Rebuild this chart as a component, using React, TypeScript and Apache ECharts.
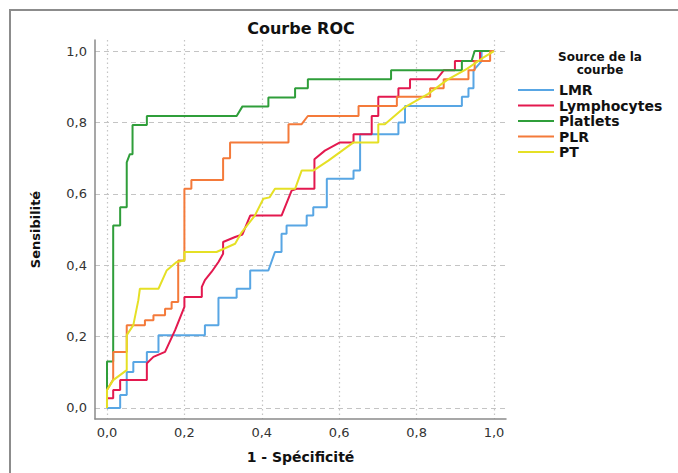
import React, { useEffect, useRef } from "react";
import * as echarts from "echarts";

const seriesNames = ["LMR", "Lymphocytes", "Platlets", "PLR", "PT"];
const seriesColors = ["#58a6e4", "#e3194f", "#2f9e3a", "#f47a3a", "#e5e025"];
const tickValues = [0, 0.2, 0.4, 0.6, 0.8, 1.0];

// LMR
const lmrX = [0, 0.034, 0.034, 0.051, 0.051, 0.068, 0.068, 0.103, 0.103, 0.133, 0.133, 0.253, 0.253, 0.288, 0.288, 0.335, 0.335, 0.37, 0.37, 0.417, 0.434, 0.451, 0.451, 0.464, 0.464, 0.516, 0.516, 0.533, 0.533, 0.568, 0.568, 0.637, 0.637, 0.654, 0.654, 0.753, 0.753, 0.77, 0.77, 0.917, 0.917, 0.934, 0.934, 0.947, 0.947, 0.968, 0.968, 1.0];
const lmrY = [0, 0, 0.036, 0.036, 0.101, 0.101, 0.129, 0.129, 0.157, 0.157, 0.204, 0.204, 0.232, 0.232, 0.309, 0.309, 0.334, 0.334, 0.385, 0.385, 0.437, 0.437, 0.488, 0.488, 0.511, 0.511, 0.539, 0.539, 0.562, 0.562, 0.642, 0.642, 0.665, 0.665, 0.767, 0.767, 0.8, 0.8, 0.846, 0.846, 0.872, 0.872, 0.896, 0.896, 0.946, 0.972, 1.0, 1.0];

// Lymphocytes
const lymX = [0, 0, 0.016, 0.016, 0.034, 0.034, 0.103, 0.103, 0.12, 0.15, 0.176, 0.2, 0.2, 0.245, 0.245, 0.253, 0.27, 0.288, 0.3, 0.3, 0.331, 0.35, 0.37, 0.451, 0.477, 0.49, 0.536, 0.536, 0.563, 0.602, 0.637, 0.637, 0.684, 0.684, 0.701, 0.701, 0.753, 0.753, 0.783, 0.783, 0.852, 0.87, 0.899, 0.899, 0.964, 0.964, 1.0];
const lymY = [0, 0.027, 0.027, 0.05, 0.05, 0.078, 0.078, 0.125, 0.143, 0.157, 0.218, 0.283, 0.311, 0.311, 0.339, 0.358, 0.381, 0.409, 0.432, 0.465, 0.479, 0.486, 0.539, 0.539, 0.609, 0.614, 0.614, 0.697, 0.721, 0.744, 0.744, 0.767, 0.767, 0.818, 0.818, 0.872, 0.872, 0.896, 0.896, 0.921, 0.921, 0.946, 0.946, 0.972, 0.972, 1.0, 1.0];

// Platlets
const pltX = [0, 0, 0.016, 0.016, 0.034, 0.034, 0.051, 0.051, 0.059, 0.066, 0.066, 0.103, 0.103, 0.335, 0.35, 0.417, 0.417, 0.486, 0.486, 0.519, 0.519, 0.734, 0.734, 0.917, 0.917, 0.942, 0.95, 1.0];
const pltY = [0, 0.13, 0.13, 0.511, 0.511, 0.562, 0.562, 0.688, 0.711, 0.711, 0.793, 0.793, 0.818, 0.818, 0.845, 0.845, 0.87, 0.87, 0.896, 0.896, 0.921, 0.921, 0.946, 0.946, 0.972, 0.972, 1.0, 1.0];

// PLR
const plrX = [0, 0, 0.016, 0.016, 0.051, 0.051, 0.098, 0.098, 0.12, 0.12, 0.15, 0.15, 0.167, 0.167, 0.184, 0.184, 0.2, 0.2, 0.218, 0.218, 0.3, 0.3, 0.318, 0.318, 0.469, 0.469, 0.503, 0.519, 0.65, 0.65, 0.749, 0.749, 0.835, 0.835, 0.87, 0.87, 0.934, 0.934, 0.95, 0.95, 0.99, 0.99, 1.0];
const plrY = [0, 0.05, 0.08, 0.157, 0.157, 0.232, 0.232, 0.246, 0.246, 0.26, 0.26, 0.278, 0.278, 0.297, 0.297, 0.413, 0.413, 0.614, 0.614, 0.639, 0.639, 0.7, 0.7, 0.744, 0.744, 0.795, 0.795, 0.818, 0.818, 0.846, 0.846, 0.872, 0.872, 0.896, 0.896, 0.921, 0.921, 0.946, 0.946, 0.972, 0.972, 1.0, 1.0];

// PT
const ptX = [0, 0, 0.016, 0.051, 0.051, 0.068, 0.081, 0.085, 0.133, 0.154, 0.18, 0.2, 0.2, 0.283, 0.331, 0.348, 0.382, 0.404, 0.42, 0.434, 0.486, 0.503, 0.533, 0.572, 0.637, 0.701, 0.701, 0.718, 0.77, 0.83, 0.88, 0.93, 0.97, 1.0];
const ptY = [0, 0.05, 0.078, 0.106, 0.204, 0.232, 0.302, 0.334, 0.334, 0.385, 0.409, 0.413, 0.437, 0.437, 0.46, 0.492, 0.539, 0.586, 0.59, 0.614, 0.614, 0.665, 0.665, 0.693, 0.744, 0.744, 0.795, 0.795, 0.843, 0.88, 0.92, 0.95, 0.98, 1.0];

const seriesX = [lmrX, lymX, pltX, plrX, ptX];
const seriesY = [lmrY, lymY, pltY, plrY, ptY];

const FONT = "DejaVu Sans";
const fmt = (v: number) => v.toFixed(1).replace(".", ",");

export default function App() {
  const ref = useRef<HTMLDivElement>(null);
  useEffect(() => {
    if (!ref.current) return;
    const chart = echarts.init(ref.current, undefined, { renderer: "svg" });
    const series = seriesNames.map((name, i) => ({
      name,
      type: "line",
      data: seriesX[i].map((x, j) => [x, seriesY[i][j]]),
      symbol: "none",
      showSymbol: false,
      lineStyle: { width: 2, color: seriesColors[i] },
      itemStyle: { color: seriesColors[i] },
      z: 3,
    }));
    chart.setOption({
      animation: false,
      backgroundColor: "#ffffff",
      title: [
        {
          text: "Courbe ROC",
          left: 301,
          top: 20,
          padding: 0,
          textAlign: "center",
          textStyle: { fontFamily: FONT, fontSize: 16, fontWeight: "bold", color: "#111" },
        },
        {
          text: "Source de la\ncourbe",
          left: 600,
          top: 50,
          padding: 0,
          textAlign: "center",
          textStyle: { fontFamily: FONT, fontSize: 12, fontWeight: "bold", color: "#111", lineHeight: 13 },
        },
      ],
      legend: {
        orient: "vertical",
        left: 517,
        top: 83,
        padding: 0,
        itemWidth: 36,
        itemHeight: 14,
        itemGap: 1.5,
        data: seriesNames,
        itemStyle: { color: "rgba(0,0,0,0)", borderColor: "rgba(0,0,0,0)", borderWidth: 0 },
        lineStyle: { width: 2 },
        textStyle: { fontFamily: FONT, fontSize: 14, fontWeight: "bold", color: "#111", lineHeight: 14 },
      },
      graphic: [
        {
          type: "rect",
          shape: { x: 10, y: 10, width: 720, height: 520 },
          style: { fill: "none", stroke: "#8c8c8c", lineWidth: 2 },
          silent: true,
        },
      ],
      grid: { left: 95, top: 40, width: 411, height: 379, containLabel: false },
      xAxis: {
        type: "value",
        min: -0.031,
        max: 1.031,
        name: "1 - Spécificité",
        nameLocation: "middle",
        nameGap: 31,
        nameTextStyle: { fontFamily: FONT, fontSize: 14, fontWeight: "bold", color: "#111" },
        axisLine: { show: true, onZero: false, lineStyle: { color: "#8a8a8a", width: 1.5 } },
        axisTick: { show: false, customValues: tickValues },
        axisLabel: { customValues: tickValues, formatter: fmt, margin: 7, fontFamily: FONT, fontSize: 13, color: "#333" },
        splitLine: { show: true, lineStyle: { color: "#c4c4c4", type: [1.5, 3], width: 1.2 } },
      },
      yAxis: {
        type: "value",
        min: -0.031,
        max: 1.031,
        name: "Sensibilité",
        nameLocation: "middle",
        nameGap: 53,
        nameTextStyle: { fontFamily: FONT, fontSize: 13, fontWeight: "bold", color: "#111" },
        axisLine: { show: true, onZero: false, lineStyle: { color: "#8a8a8a", width: 1.5 } },
        axisTick: { show: false, customValues: tickValues },
        axisLabel: { customValues: tickValues, formatter: fmt, margin: 8, fontFamily: FONT, fontSize: 13, color: "#333" },
        splitLine: { show: true, lineStyle: { color: "#c4c4c4", type: [5, 4], width: 1 } },
      },
      series,
    });
    return () => chart.dispose();
  }, []);
  return (
    <div
      ref={ref}
      style={{ position: "absolute", left: 0, top: 0, width: 678, height: 473, background: "#fff" }}
    />
  );
}
